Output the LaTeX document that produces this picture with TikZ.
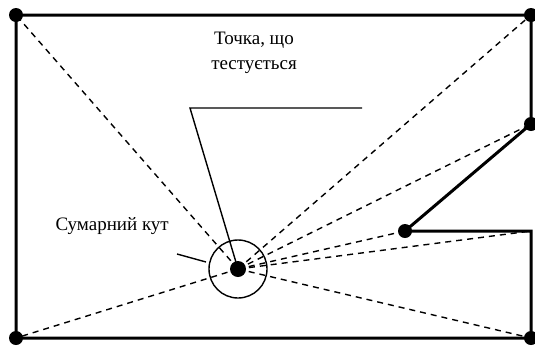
\documentclass[tikz,border=0pt]{standalone}
\usepackage{fontspec}
\setmainfont{Liberation Serif}
\begin{document}
\begin{tikzpicture}[x=1pt,y=-1pt,
  wall/.style={line width=3pt,line join=miter},
  ray/.style={line width=1.4pt,dash pattern=on 6pt off 5pt},
  leader/.style={line width=1.4pt},
  vertex/.style={circle,fill=black,inner sep=0pt,minimum size=14pt},
  label/.style={font=\fontsize{19}{25}\selectfont,inner sep=0pt,align=center}]
\useasboundingbox (0,0) rectangle (535,346);
% polygon vertices
\coordinate (A) at (16,15);
\coordinate (B) at (531,15);
\coordinate (C) at (531,124);
\coordinate (D) at (405,231);
\coordinate (E) at (531,231);
\coordinate (F) at (531,338);
\coordinate (G) at (16,338);
% point being tested
\coordinate (P) at (238,269);
% rays from the tested point to every vertex
\foreach \v in {A,B,C,D,E,F,G}
  \draw[ray] (P) -- (\v);
% polygon boundary
\draw[wall] (A) -- (B) -- (C) -- (D) -- (E) -- (F) -- (G) -- cycle;
% vertex markers
\foreach \v in {A,B,C,D,F,G}
  \node[vertex] at (\v) {};
% summed-angle circle and the tested point
\node[circle,draw,line width=1.4pt,minimum size=58pt,inner sep=0pt] (ring) at (P) {};
\node[vertex,minimum size=16pt] (pt) at (P) {};
% labels with their leaders
\node[label,anchor=base] (tl) at (254,69) {Точка, що\\тестується};
\coordinate (kneeL) at (190,108);
\coordinate (kneeR) at (362,108);
\draw[leader] (kneeR) -- (kneeL) -- (P);
\node[label,anchor=base east] (sum) at (169,230) {Сумарний кут};
\coordinate (s1) at (177,254);
\coordinate (s2) at (206,262);
\draw[leader] (s1) -- (s2);
\end{tikzpicture}
\end{document}
